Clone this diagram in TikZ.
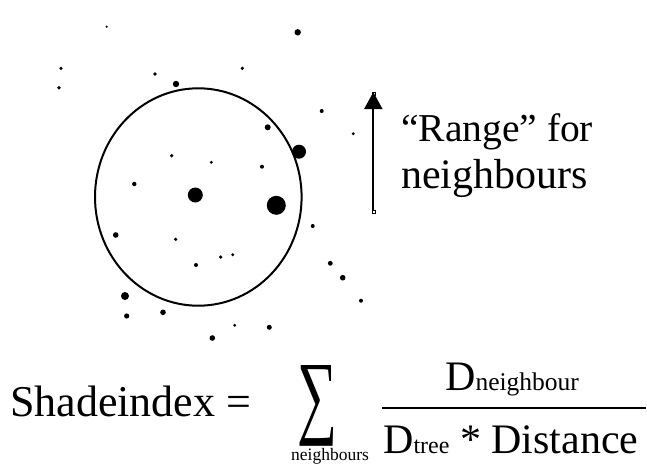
\documentclass[tikz,border=0pt]{standalone}
\usepackage{fontspec}
\setmainfont{Liberation Serif}
\usetikzlibrary{arrows.meta}
\newcommand{\fs}[1]{\fontsize{#1}{#1}\selectfont}
\begin{document}
\begin{tikzpicture}[x=1pt,y=-1pt,
  dot/.style={circle,fill=black,inner sep=0pt,minimum size=#1},
  txt/.style={inner sep=0pt,anchor=base west},
  handle/.style={draw=black,fill=white,inner sep=0pt,minimum size=3pt,line width=0.6pt}]
\useasboundingbox[fill=white] (0,0) rectangle (647,475);
% range circle
\draw[line width=2pt] (198.3,197) ellipse [x radius=103.3, y radius=108.7];
% dots
\foreach \x/\y/\r [count=\i] in {
 106.7/26.7/2.4, 297.7/32.3/6.4, 61/68.3/3.6, 59/87.7/3.6, 155/74/3.6,
 176/84/6.4, 242.3/68.3/3.6, 321.7/111/4, 353.3/133.7/3.2, 267.7/127.3/6,
 299/151.7/14, 171.7/155.7/3.6, 211.3/162.3/3.2, 262/166.7/4, 134.3/184/4.4,
 195.3/195/15, 276.3/205.3/19, 312.7/226/4, 115.7/235/5.6, 175.7/239.3/3.6,
 220.7/257/3.6, 232.7/254.7/3.2, 196/265/4, 330.3/263.3/4.8, 342.7/277.7/5.6,
 361/300.7/4, 125/296/8, 126.7/316/5.2, 163/312.3/5.6, 234.7/325.3/3.2,
 269.3/327.3/5, 212.3/338/5.6}
 \node[dot=\r pt] (d\i) at (\x,\y) {};
% range arrow
\node[handle] (abot) at (373.3,211.7) {};
\node[handle] (atop) at (373.3,93.3) {};
\draw[line width=2.2pt,-{Triangle[length=17pt,width=18pt]}] (abot.north) -- ([yshift=3pt]atop.south);
\node[txt] (r1) at (401,141.7) {\fs{39.5}“Range” for};
\node[txt] (r2) at (401,188) {\fs{42}neighbours};
% formula
\node[txt] (lhs) at (10,416.7) {\fs{44}Shadeindex =};
\node[inner sep=0pt] (sig) at (317,406) {\resizebox{40pt}{61pt}{\fs{60}∑}};
\node[txt] (sub) at (291,460) {\fs{17.5}neighbours};
\coordinate (b1) at (382,407.5);
\coordinate (b2) at (646,407.5);
\draw[line width=2pt] (b1) -- (b2);
\node[txt] (num) at (445,390) {\fs{42}D\fs{25.5}neighbour};
\node[txt] (den) at (383,453) {\fs{42}D{\fs{24}tree} * Distance};
\end{tikzpicture}
\end{document}
